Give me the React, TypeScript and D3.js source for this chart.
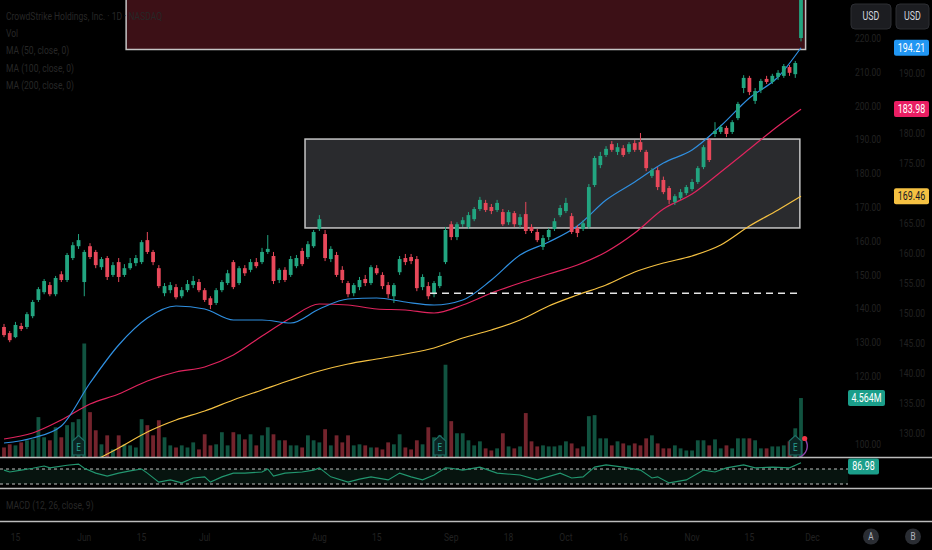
import React, { useEffect } from 'react';
import * as d3 from 'd3';

// daily bars, index 0 = 11 May 2023 ... index 139 = 29 Nov 2023
const opens = [
  134.5, 132.7, 131.5, 134.8, 134.5, 137.7, 142.5, 144.8, 146.9, 144.2,
  150.1, 148.4, 154.9, 158.4, 147.8, 158.4, 156.7, 152.2, 154.9, 149.9,
  153.7, 149.9, 151.9, 153.4, 153.7, 160.2, 156.7, 151.9, 144.5, 145.4,
  146.3, 143.6, 145.4, 146.9, 147.8, 145.4, 143.0, 141.6, 145.4, 147.5,
  153.7, 147.5, 151.9, 151.4, 153.7, 153.7, 156.7, 155.5, 148.4, 151.4,
  149.9, 152.5, 157.0, 155.2, 158.4, 163.5, 162.0, 154.6, 155.8, 151.4,
  147.5, 144.5, 146.3, 148.7, 147.5, 151.9, 149.9, 146.9, 143.6, 150.7,
  154.9, 155.2, 154.6, 146.3, 146.6, 144.2, 146.6, 153.7, 164.9, 161.1,
  164.9, 164.1, 166.4, 169.4, 171.2, 170.0, 169.1, 168.5, 165.5, 168.2,
  164.7, 167.9, 164.1, 162.6, 158.2, 161.1, 163.5, 167.6, 168.8, 167.3,
  163.8, 163.5, 164.1, 176.5, 182.4, 185.4, 188.6, 186.3, 187.4, 186.3,
  188.9, 189.2, 186.3, 179.2, 180.9, 178.0, 175.6, 171.5, 172.7, 174.1,
  175.3, 177.4, 181.8, 189.8, 191.6, 192.2, 193.4, 192.2, 196.3, 205.2,
  208.2, 201.4, 204.6, 207.9, 207.0, 208.5, 208.8, 211.4, 209.3, 220.0,
];
const highs = [
  135.4, 133.3, 136.0, 135.7, 138.9, 142.5, 146.3, 148.7, 147.8, 149.6,
  151.0, 156.4, 159.6, 162.0, 157.3, 159.3, 157.3, 155.2, 155.5, 153.7,
  154.9, 153.1, 154.9, 155.8, 160.2, 162.6, 157.3, 152.8, 147.5, 147.8,
  147.2, 146.3, 148.4, 149.6, 148.7, 146.0, 143.6, 146.0, 148.4, 151.4,
  154.3, 152.5, 152.8, 154.6, 154.9, 157.9, 161.7, 156.7, 151.9, 152.2,
  155.5, 155.8, 157.9, 159.9, 163.2, 167.6, 163.2, 158.4, 156.7, 152.5,
  148.1, 147.5, 149.3, 149.9, 152.8, 152.8, 150.7, 147.8, 147.5, 155.5,
  156.1, 156.1, 155.5, 150.1, 147.8, 148.1, 150.7, 164.1, 165.8, 165.5,
  167.0, 168.5, 170.0, 173.0, 172.1, 170.9, 172.1, 169.4, 169.1, 168.8,
  167.9, 171.5, 164.9, 163.5, 161.7, 163.8, 166.7, 170.6, 172.7, 168.2,
  164.7, 166.1, 176.8, 185.1, 186.3, 188.0, 189.5, 188.9, 188.3, 189.2,
  189.8, 191.9, 186.9, 181.5, 181.8, 179.0, 176.2, 173.8, 175.3, 176.5,
  178.3, 182.1, 188.3, 190.4, 195.1, 194.3, 194.0, 195.7, 201.1, 209.0,
  208.8, 205.2, 207.9, 208.8, 209.4, 210.5, 212.3, 212.0, 213.2, 240.0,
];
const lows = [
  131.5, 130.0, 131.2, 133.3, 133.9, 137.1, 141.9, 144.2, 143.6, 143.6,
  147.8, 147.8, 154.3, 157.6, 143.6, 154.6, 151.9, 151.4, 148.4, 149.3,
  147.8, 149.3, 151.4, 152.5, 153.1, 156.1, 152.8, 146.0, 143.6, 144.5,
  142.7, 143.0, 144.8, 146.0, 144.8, 141.9, 139.8, 141.0, 144.8, 146.9,
  145.7, 146.9, 149.6, 150.7, 151.9, 153.1, 156.1, 147.2, 147.5, 147.8,
  149.3, 151.9, 152.5, 154.6, 157.9, 162.9, 154.0, 153.7, 149.3, 147.5,
  143.3, 143.6, 145.4, 146.6, 146.9, 149.9, 145.7, 143.0, 141.6, 149.9,
  152.8, 153.1, 145.1, 145.4, 142.7, 143.3, 146.0, 153.1, 160.2, 160.2,
  164.1, 163.5, 165.8, 168.8, 168.5, 167.9, 168.5, 164.4, 164.7, 164.1,
  163.8, 162.0, 162.3, 159.6, 157.3, 160.2, 162.9, 167.0, 168.2, 162.0,
  161.1, 162.9, 163.5, 175.9, 181.5, 184.8, 186.3, 185.4, 184.8, 185.7,
  186.3, 186.3, 180.6, 178.6, 175.0, 173.8, 170.9, 170.6, 172.1, 173.5,
  174.7, 176.8, 181.2, 183.3, 190.7, 191.6, 190.7, 191.6, 195.7, 203.7,
  203.1, 200.5, 203.7, 206.4, 206.4, 207.6, 208.2, 208.8, 208.2, 219.0,
];
const closes = [
  132.1, 130.6, 135.1, 133.9, 138.3, 141.9, 145.7, 148.1, 144.2, 149.0,
  148.4, 155.8, 158.7, 160.2, 156.7, 155.2, 152.8, 154.6, 149.3, 152.8,
  149.3, 151.9, 153.4, 154.9, 159.6, 156.7, 153.7, 146.6, 146.6, 146.9,
  143.3, 145.4, 147.2, 148.1, 145.4, 142.5, 141.0, 145.4, 147.8, 150.4,
  146.3, 151.9, 150.4, 153.7, 152.5, 156.7, 157.6, 148.1, 151.4, 148.4,
  154.6, 154.9, 153.1, 159.0, 162.6, 166.4, 154.9, 157.6, 149.9, 148.4,
  144.2, 146.9, 148.4, 147.5, 152.2, 150.4, 146.6, 144.2, 146.9, 154.6,
  153.7, 154.0, 146.0, 149.3, 143.6, 147.5, 149.6, 163.2, 161.1, 164.9,
  166.1, 167.6, 169.4, 172.1, 169.1, 168.8, 171.2, 164.9, 168.5, 164.9,
  167.0, 162.9, 162.9, 160.2, 160.8, 163.2, 165.8, 169.7, 171.2, 162.6,
  162.3, 165.2, 175.9, 184.5, 185.1, 187.2, 186.9, 187.7, 185.4, 188.6,
  186.9, 186.9, 181.5, 180.9, 175.9, 174.4, 172.1, 173.2, 174.4, 175.9,
  177.4, 181.5, 187.7, 183.9, 192.5, 193.7, 191.6, 195.1, 200.5, 208.2,
  204.0, 204.3, 207.3, 207.0, 208.8, 209.7, 211.7, 209.7, 212.6, 238.0,
];
// volume in millions
const volumes = [
  0.77, 1.01, 0.93, 1.16, 1.32, 1.39, 3.1, 1.55, 1.32, 2.32,
  1.55, 2.48, 2.71, 2.94, 8.75, 3.48, 2.09, 1.01, 1.7, 0.62,
  1.7, 1.01, 0.93, 0.77, 2.94, 2.48, 1.7, 2.86, 1.55, 0.93,
  0.77, 0.93, 0.77, 1.16, 0.62, 1.78, 0.93, 1.01, 1.94, 0.93,
  1.94, 1.78, 1.39, 1.78, 0.93, 1.7, 2.32, 1.78, 1.32, 1.32,
  0.93, 0.93, 0.77, 1.7, 1.32, 1.16, 2.17, 0.93, 1.7, 1.16,
  1.7, 0.93, 1.01, 0.93, 0.77, 0.77, 0.62, 1.16, 1.01, 1.78,
  0.77, 0.62, 1.32, 1.01, 2.32, 1.55, 1.7, 7.12, 2.79, 1.86,
  1.86, 1.32, 0.93, 1.24, 0.7, 0.54, 0.7, 1.86, 0.85, 0.7,
  0.85, 3.41, 1.24, 0.85, 0.93, 0.85, 0.85, 0.93, 1.24, 1.08,
  0.7, 0.85, 3.17, 3.25, 1.47, 1.47, 0.93, 1.24, 1.08, 0.93,
  1.08, 0.93, 1.47, 1.7, 1.08, 0.7, 0.7, 0.93, 0.7, 0.54,
  0.54, 1.32, 1.32, 0.93, 1.39, 0.7, 0.93, 0.7, 1.47, 1.47,
  1.47, 1.32, 0.7, 0.7, 0.85, 0.85, 0.93, 1.24, 2.24, 4.564,
];

// moving averages (plotted on the second price scale)
const maIdx = [0, 5, 10, 15, 20, 25, 30, 35, 40, 45, 50, 55, 60, 65, 70, 75, 80, 85, 90, 95, 100, 105, 110, 115, 120, 125, 130, 135, 139];
const ma50 = [128.33, 129.17, 131.17, 138.33, 144.67, 149.17, 151.17, 150.67, 148.83, 148.83, 148.33, 150.67, 152.33, 152.5, 151.83, 151.33, 152.17, 155.5, 159.67, 161.83, 164.5, 168.83, 171.83, 175.0, 177.17, 181.17, 185.83, 189.33, 194.21];
const ma100 = [129.0, 130.0, 132.17, 134.83, 136.5, 138.67, 140.17, 141.0, 143.0, 146.17, 149.17, 151.5, 151.33, 150.67, 150.5, 150.0, 151.33, 153.33, 155.0, 156.5, 158.0, 160.17, 163.33, 167.33, 169.83, 173.5, 177.33, 181.17, 183.98];
const ma200Idx = [15, 20, 25, 30, 35, 40, 45, 50, 55, 60, 65, 70, 75, 80, 85, 90, 95, 100, 105, 110, 115, 120, 125, 130, 135, 139];
const ma200 = [125.0, 127.5, 130.17, 132.17, 133.67, 135.5, 137.17, 138.83, 140.33, 141.5, 142.33, 143.17, 144.17, 145.83, 147.17, 148.83, 151.17, 153.0, 154.67, 156.83, 158.33, 159.5, 161.33, 164.5, 167.17, 169.46];

const rsiIdx = [0, 1, 3, 5, 7, 8, 11, 13, 14, 16, 18, 20, 22, 24, 25, 27, 29, 31, 33, 35, 36, 38, 40, 42, 45, 46, 47, 49, 52, 54, 55, 57, 60, 62, 64, 67, 69, 71, 73, 75, 77, 78, 80, 83, 86, 90, 93, 97, 99, 101, 103, 105, 108, 111, 113, 114, 116, 119, 122, 124, 126, 129, 131, 134, 137, 139];
const rsiVal = [67, 62, 67, 72, 78, 73, 80, 83, 72, 59, 51, 59, 65, 70, 59, 35, 41, 33, 46, 49, 35, 49, 59, 59, 62, 70, 51, 59, 62, 67, 73, 49, 35, 43, 49, 41, 59, 49, 41, 54, 73, 72, 67, 75, 59, 54, 41, 59, 46, 49, 75, 81, 75, 67, 46, 49, 33, 41, 67, 62, 73, 81, 73, 75, 73, 86.98];

const earningsIdx = [13, 76, 138];

// drawn zones: [start bar, end bar, low price, high price]
const zoneStart = [21.3, 52.5];
const zoneEnd = [139.8, 138.8];
const zoneLow = [216.6, 163.8];
const zoneHigh = [240, 190.1];
const zoneFill = ['#3c1016', '#2a2b2e'];

const levelPrice = 144.5;
const levelFrom = 74.3;
const levelTo = 138.3;

const priceTicksA = [100, 110, 120, 130, 140, 150, 160, 170, 180, 190, 200, 210, 220];
const priceTicksB = [130, 135, 140, 145, 150, 155, 160, 165, 170, 175, 180, 185, 190];
const timeTickIdx = [2, 14, 24, 35, 55, 65, 78, 88, 98, 108, 120, 130, 141];
const timeTickLabels = ['15', 'Jun', '15', 'Jul', 'Aug', '15', 'Sep', '18', 'Oct', '16', 'Nov', '15', 'Dec'];

const legendLines = ['CrowdStrike Holdings, Inc. · 1D · NASDAQ', 'Vol', 'MA (50, close, 0)', 'MA (100, close, 0)', 'MA (200, close, 0)'];

const W = 932;
const H = 550;
const PLOT_R = 848;
const MAIN_B = 457.5;
const RSI_B = 488.5;
const MACD_B = 521.5;
const COL_A = 868;
const COL_B = 912;
const DIM = '#212121';
const LEGEND = '#272727';
const UP = '#22a580';
const DOWN = '#e8485a';
const FONT = 'Roboto, "Noto Sans", sans-serif';

const Txt: React.FC<{
  x: number;
  y: number;
  fill?: string;
  size?: number;
  anchor?: 'start' | 'middle' | 'end';
  children: React.ReactNode;
}> = ({ x, y, fill = DIM, size = 11.5, anchor = 'middle', children }) => (
  <text
    transform={`translate(${x},${y}) scale(0.74,1)`}
    textAnchor={anchor}
    dominantBaseline="central"
    fill={fill}
    fontSize={size}
    fontFamily={FONT}
  >
    {children}
  </text>
);

const Tag: React.FC<{ x: number; y: number; w: number; bg: string; fg?: string; label: string }> = ({
  x,
  y,
  w,
  bg,
  fg = '#ffffff',
  label,
}) => (
  <g>
    <rect x={x} y={y - 8} width={w} height={16} rx={2} fill={bg} />
    <Txt x={x + w / 2} y={y} fill={fg} size={12}>
      {label}
    </Txt>
  </g>
);

export default function App() {
  useEffect(() => {
    document.body.style.margin = '0';
    document.body.style.background = '#000';
  }, []);

  const x = d3.scaleLinear().domain([0, 139]).range([4, 801]);
  const yA = d3.scaleLinear().domain([100, 220]).range([443.6, 38]);
  const yB = d3.scaleLinear().domain([130, 190]).range([433, 73]);
  const yV = d3.scaleLinear().domain([0, d3.max(volumes) as number]).range([MAIN_B, MAIN_B - 114]);
  const yR = d3.scaleLinear().domain([30, 70]).range([484, 469]);
  const bw = 3.8;

  const maLine = (idx: number[]) =>
    d3
      .line<number>()
      .x((_, k) => x(idx[k]))
      .y(v => yB(v))
      .curve(d3.curveMonotoneX);

  const rsiLine = d3
    .line<number>()
    .x((_, k) => x(rsiIdx[k]))
    .y(v => yR(v));

  const lastVol = volumes[volumes.length - 1];
  const lastRsi = rsiVal[rsiVal.length - 1];
  const maTags = [
    { v: ma50[ma50.length - 1], bg: '#2196f3', fg: '#ffffff' },
    { v: ma100[ma100.length - 1], bg: '#e91e63', fg: '#ffffff' },
    { v: ma200[ma200.length - 1], bg: '#f5c142', fg: '#131722' },
  ];
  const volTagY = yV(lastVol);
  const rsiTagY = Math.max(yR(lastRsi), MAIN_B + 9);

  // tick labels hidden under the value tags, as on the original chart
  const ticksA = priceTicksA.filter(p => Math.abs(yA(p) - volTagY) > 12 && yA(p) < MAIN_B - 6);
  const ticksB = priceTicksB.filter(p => maTags.every(t => Math.abs(yB(p) - yB(t.v)) > 12));

  const lastE = earningsIdx[earningsIdx.length - 1];
  const ring = d3.arc()({ innerRadius: 11.3, outerRadius: 12.7, startAngle: 0.9, endAngle: 2.9 }) as string;

  return (
    <svg
      width={W}
      height={H}
      style={{ position: 'absolute', left: 0, top: 0, background: '#000', display: 'block' }}
    >
      <defs>
        <clipPath id="main">
          <rect x={0} y={0} width={PLOT_R} height={MAIN_B} />
        </clipPath>
        <clipPath id="rsi">
          <rect x={0} y={MAIN_B} width={PLOT_R} height={RSI_B - MAIN_B} />
        </clipPath>
      </defs>

      <g clipPath="url(#main)">
        {/* zones */}
        {zoneStart.map((s, k) => (
          <rect
            key={k}
            x={x(s)}
            y={yA(zoneHigh[k])}
            width={x(zoneEnd[k]) - x(s)}
            height={yA(zoneLow[k]) - yA(zoneHigh[k])}
            fill={zoneFill[k]}
            stroke="#c4c4c4"
            strokeWidth={1.5}
          />
        ))}

        {/* volume */}
        {volumes.map((v, i) => (
          <rect
            key={i}
            x={x(i) - bw / 2}
            y={yV(v)}
            width={bw}
            height={MAIN_B - yV(v)}
            fill={closes[i] >= opens[i] ? UP : DOWN}
            fillOpacity={0.5}
          />
        ))}

        {/* earnings badges */}
        {earningsIdx.map(i => {
          const cx = x(i);
          return (
            <g key={i}>
              <path
                d={`M${cx - 6},455 L${cx - 6},441 L${cx},435.5 L${cx + 6},441 L${cx + 6},455 Z`}
                fill="#0b2422"
                stroke="#1d6f66"
                strokeWidth={1.2}
              />
              <Txt x={cx} y={447} fill="#2a9d8f" size={11}>
                E
              </Txt>
            </g>
          );
        })}
        <path d={ring} transform={`translate(${x(lastE)},446)`} fill="#8e44ad" />
        <circle cx={x(lastE) + 9.4} cy={438.5} r={2.6} fill="#f23645" />

        {/* moving averages */}
        <path d={maLine(ma200Idx)(ma200) ?? ''} fill="none" stroke="#f5c142" strokeWidth={1.2} />
        <path d={maLine(maIdx)(ma100) ?? ''} fill="none" stroke="#e0245e" strokeWidth={1.2} />
        <path d={maLine(maIdx)(ma50) ?? ''} fill="none" stroke="#2f8fe0" strokeWidth={1.2} />

        {/* candles */}
        {closes.map((c, i) => {
          const o = opens[i];
          const col = c >= o ? UP : DOWN;
          const top = yA(Math.max(o, c));
          const bot = yA(Math.min(o, c));
          return (
            <g key={i}>
              <line x1={x(i)} x2={x(i)} y1={yA(highs[i])} y2={yA(lows[i])} stroke={col} strokeWidth={1} />
              <rect x={x(i) - bw / 2} y={top} width={bw} height={Math.max(1, bot - top)} fill={col} />
            </g>
          );
        })}

        {/* horizontal level */}
        <line
          x1={x(levelFrom)}
          x2={x(levelTo)}
          y1={yA(levelPrice)}
          y2={yA(levelPrice)}
          stroke="#e6e6e6"
          strokeWidth={1.6}
          strokeDasharray="7 5"
        />
      </g>

      {/* RSI pane */}
      <g clipPath="url(#rsi)">
        <rect x={0} y={yR(70)} width={PLOT_R} height={yR(30) - yR(70)} fill="#07140f" />
        <line x1={0} x2={PLOT_R} y1={yR(70)} y2={yR(70)} stroke="#bfbfbf" strokeDasharray="3 3" />
        <line x1={0} x2={PLOT_R} y1={yR(30)} y2={yR(30)} stroke="#bfbfbf" strokeDasharray="3 3" />
        <path d={rsiLine(rsiVal) ?? ''} fill="none" stroke="#22966f" strokeWidth={1.1} />
      </g>

      {/* pane separators */}
      {[MAIN_B, RSI_B, MACD_B].map(y => (
        <line key={y} x1={0} x2={W} y1={y} y2={y} stroke="#bcbcbc" strokeWidth={1.5} />
      ))}

      {/* legends */}
      {legendLines.map((t, k) => (
        <Txt key={t} x={6} y={16 + k * 17.25} anchor="start" fill={LEGEND}>
          {t}
        </Txt>
      ))}
      <Txt x={6} y={505} anchor="start" fill={LEGEND}>
        MACD (12, 26, close, 9)
      </Txt>

      {/* price axes */}
      {ticksA.map(p => (
        <Txt key={p} x={COL_A} y={yA(p)}>
          {p.toFixed(2)}
        </Txt>
      ))}
      {ticksB.map(p => (
        <Txt key={p} x={COL_B} y={yB(p)}>
          {p.toFixed(2)}
        </Txt>
      ))}

      {/* value tags */}
      {maTags.map(t => (
        <Tag key={t.bg} x={894} y={yB(t.v)} w={35} bg={t.bg} fg={t.fg} label={t.v.toFixed(2)} />
      ))}
      <Tag x={848} y={volTagY} w={37} bg="#1b9e8a" label={`${lastVol.toFixed(3)}M`} />
      <Tag x={848} y={rsiTagY} w={31} bg="#1b9e8a" label={lastRsi.toFixed(2)} />

      {/* currency buttons */}
      <rect x={851} y={4} width={40} height={25} rx={4} fill="#1c1d21" stroke="#2c2e33" />
      <rect x={896} y={4} width={33} height={25} rx={4} fill="#1c1d21" stroke="#2c2e33" />
      <Txt x={871} y={16.5} fill="#d1d4dc" size={12}>
        USD
      </Txt>
      <Txt x={912.5} y={16.5} fill="#d1d4dc" size={12}>
        USD
      </Txt>

      {/* time axis */}
      {timeTickIdx.map((i, k) => (
        <Txt key={k} x={x(i)} y={537}>
          {timeTickLabels[k]}
        </Txt>
      ))}
      <circle cx={871} cy={536.5} r={8} fill="#2a2d33" />
      <circle cx={913} cy={536.5} r={8} fill="#2a2d33" />
      <Txt x={871} y={536.5} fill="#b2b5be" size={11}>
        A
      </Txt>
      <Txt x={913} y={536.5} fill="#b2b5be" size={11}>
        B
      </Txt>
    </svg>
  );
}
